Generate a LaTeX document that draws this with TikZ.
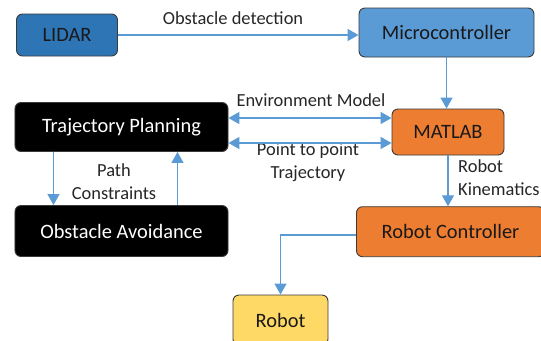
\documentclass[tikz,border=0pt]{standalone}
\usepackage{fontspec}
\setmainfont{Carlito}
\usetikzlibrary{arrows.meta}

\definecolor{lidarblue}{HTML}{2E75B6}
\definecolor{microblue}{HTML}{5B9BD5}
\definecolor{linkblue}{HTML}{5B9BD5}
\definecolor{matorange}{HTML}{ED7D31}
\definecolor{robyellow}{HTML}{FFD966}
\definecolor{boxline}{HTML}{3A3A3A}

\begin{document}
\begin{tikzpicture}
  [x=1bp,y=-1bp,>={Triangle[length=11bp,width=12bp]},
   box/.style={draw=boxline,line width=0.9bp,rounded corners=6bp,inner sep=0pt,
     font=\fontsize{20.5}{24}\selectfont,text=black!90},
   dark/.style={box,fill=black,text=white},
   lbl/.style={font=\fontsize{18.5}{23}\selectfont,align=center,inner sep=0pt,text=black!85},
   link/.style={draw=linkblue,line width=1.4bp}]
  \useasboundingbox (0,0) rectangle (541,340);

  \node[box,fill=lidarblue,minimum width=101bp,minimum height=42bp] (lidar) at (67,35) {LIDAR};
  \node[box,fill=microblue,minimum width=175bp,minimum height=49bp] (micro) at (446.5,32.5) {Microcontroller};
  \node[dark,minimum width=213bp,minimum height=49bp] (traj) at (121.5,127) {Trajectory Planning};
  \node[box,fill=matorange,minimum width=112bp,minimum height=46bp] (matlab) at (448,132) {MATLAB};
  \node[dark,minimum width=213bp,minimum height=51bp] (obst) at (121.5,231) {Obstacle Avoidance};
  \node[box,fill=matorange,minimum width=188bp,minimum height=50bp] (ctrl) at (450.5,231.7) {Robot Controller};
  \node[box,fill=robyellow,minimum width=95bp,minimum height=50bp] (robot) at (280.5,320) {Robot};

  \node[lbl] (detect) at (233,18) {Obstacle detection};
  \node[lbl] (envmod) at (311,100) {Environment Model};
  \node[lbl] (p2p) at (308,162) {Point to point\\Trajectory};
  \node[lbl] (pathc) at (114,182) {Path\\Constraints};
  \node[lbl,align=left,anchor=west] (kinem) at (458,178) {Robot\\Kinematics};

  \draw[link,->] (lidar.east) -- (micro.west |- lidar.east);
  \foreach \from/\to in {micro/matlab,matlab/ctrl}
    \draw[link,->] (\from.south) -- (\from.south |- \to.north);
  \draw[link,<->] (traj.east |- 0,118) -- (matlab.west |- 0,118);
  \draw[link,<->] (traj.east |- 0,143) -- (matlab.west |- 0,143);
  \draw[link,->] (traj.south -| 53.5,0) -- (obst.north -| 53.5,0);
  \draw[link,->] (obst.north -| 177.5,0) -- (traj.south -| 177.5,0);
  \draw[link,->] (ctrl.west |- 0,235) -| (robot.north);

\end{tikzpicture}
\end{document}
